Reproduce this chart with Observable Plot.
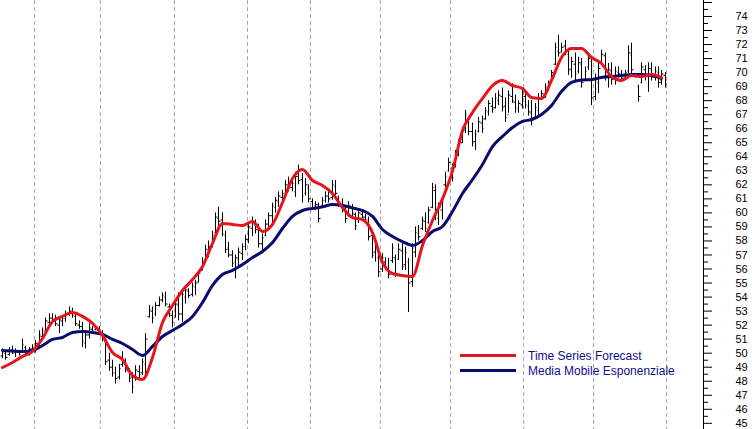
<!DOCTYPE html>
<html><head><meta charset="utf-8">
<script src="https://cdn.jsdelivr.net/npm/d3@7"></script>
<script src="https://cdn.jsdelivr.net/npm/@observablehq/plot@0.6"></script>
<style>
body{margin:0;background:#fff;}
#wrap{position:relative;width:752px;height:429px;overflow:hidden;}
#legend{position:absolute;left:460px;top:348px;font:12px "Liberation Sans",Arial,sans-serif;color:#10108a;}
.row{display:flex;align-items:center;height:15px;white-space:nowrap;}
.sw{width:56px;height:3px;margin-right:12px;}
</style></head><body><div id="wrap"></div>
<script>
// Daily OHLC bars (index = trading day)
const high = [50.3,50.2,50.4,50.5,50.3,50.2,51.0,50.5,50.4,50.6,
50.9,51.6,51.8,52.5,52.8,52.8,52.7,52.6,52.7,53.0,
53.3,53.2,52.8,52.3,52.2,51.6,52.1,51.9,51.9,51.9,
51.6,50.9,50.0,49.5,49.0,49.2,50.1,49.6,48.9,48.6,
49.1,49.1,49.6,51.4,53.4,53.3,53.6,54.0,54.3,54.35,
53.5,53.0,53.8,54.3,54.5,54.8,54.6,55.0,55.2,55.9,
56.8,57.7,58.0,58.7,60.0,60.4,60.0,58.7,57.9,57.3,
57.0,57.5,57.8,58.4,59.2,59.7,59.5,59.2,58.5,59.5,
60.0,60.7,61.1,61.5,61.6,62.3,62.55,62.3,62.9,63.4,
62.8,62.45,62.0,61.0,60.8,60.7,61.1,61.5,61.7,62.3,
62.3,61.2,61.0,60.4,60.8,60.6,60.0,60.3,60.2,59.9,
59.7,58.75,58.0,57.1,57.1,56.8,56.75,57.8,57.0,57.8,
57.8,57.56,56.75,57.8,59.0,59.1,59.7,60.0,60.4,62.1,
62.0,60.7,61.0,62.9,63.9,63.5,64.45,65.2,66.1,67.3,
66.8,66.4,65.9,66.8,66.9,67.5,68.0,68.2,68.5,68.7,
68.9,68.2,68.7,69.2,68.4,68.0,68.9,68.6,68.0,68.0,
67.8,68.5,68.7,69.2,69.4,70.15,72.1,72.65,72.1,72.3,
71.6,71.1,71.4,71.1,71.0,70.4,71.4,71.0,69.9,70.65,
71.6,71.4,70.65,70.7,70.4,70.4,70.15,70.15,71.9,72.1,
69.9,69.1,70.7,70.5,70.7,70.7,70.4,70.4,70.15,70.0];
const low = [49.6,49.5,49.8,49.9,49.7,49.8,50.0,49.9,49.8,50.0,
50.0,50.3,51.0,51.4,51.8,52.1,51.9,51.4,51.9,52.2,
52.6,52.5,51.9,51.7,50.4,50.3,51.0,51.4,51.6,51.4,
50.8,49.1,48.7,48.3,47.8,48.1,49.0,48.6,47.9,47.1,
48.0,48.2,48.4,48.3,52.5,52.1,52.6,53.3,53.6,53.3,
52.55,51.8,52.5,52.3,52.2,53.5,53.9,54.0,54.1,55.0,
55.9,56.4,56.8,57.5,58.5,59.0,58.3,57.1,56.8,56.1,
55.3,56.1,56.6,57.3,57.8,58.3,58.5,57.5,57.3,58.3,
58.9,59.2,60.0,60.4,60.7,61.2,61.5,61.5,61.1,62.0,
60.7,61.2,60.7,60.2,60.2,59.3,60.4,60.7,60.7,60.9,
61.1,60.4,60.0,59.25,59.7,59.7,58.75,59.25,59.5,59.3,
58.0,56.75,56.5,55.4,55.75,55.9,55.3,56.4,55.4,56.6,
55.9,55.9,52.9,54.7,56.8,58.0,58.75,58.6,59.2,60.3,
59.45,59.1,59.5,61.8,62.9,62.2,63.2,64.0,64.95,65.66,
65.5,64.7,64.45,65.7,65.66,66.6,66.9,67.1,67.4,67.65,
67.2,66.45,67.1,67.8,67.1,67.1,67.4,67.4,66.9,66.2,
66.7,66.8,68.0,68.15,68.7,69.4,70.5,71.1,71.4,71.2,
69.8,69.6,69.4,69.9,68.9,69.4,70.15,67.65,68.0,68.5,
70.65,69.4,68.9,69.1,69.1,69.6,69.3,69.6,69.9,69.9,
69.6,67.9,69.2,69.4,68.6,69.4,69.4,68.9,69.1,68.9];
const open = [49.8,50.0,49.9,50.2,50.0,50.1,50.1,50.4,50.0,50.3,
50.3,50.6,51.2,51.6,52.2,52.5,52.3,52.0,52.3,52.5,
52.8,53.0,52.6,52.0,51.9,50.7,51.3,51.7,51.7,51.7,
51.4,50.8,49.5,49.0,48.6,48.3,49.2,49.3,48.7,48.3,
48.2,48.7,48.6,49.2,52.6,53.0,52.8,53.4,53.8,54.0,
53.3,52.7,52.6,53.4,52.8,54.0,54.4,54.2,54.7,55.1,
55.9,56.6,57.3,57.7,58.6,59.6,59.5,58.4,57.5,57.0,
56.5,56.7,57.1,57.6,58.1,58.9,59.1,58.8,57.8,58.4,
59.2,59.8,60.4,60.8,61.1,61.4,62.0,61.8,61.5,62.6,
62.4,61.4,61.8,60.8,60.5,60.5,60.5,60.9,61.2,61.1,
61.9,61.0,60.6,60.2,59.8,60.4,59.9,59.4,59.9,59.7,
59.5,58.4,57.2,56.8,56.0,56.5,56.2,56.6,56.8,56.7,
57.3,56.3,56.5,55.1,57.2,58.5,58.9,59.4,59.3,60.4,
61.6,59.6,60.2,62.0,63.0,63.2,63.3,64.2,65.0,65.9,
66.6,65.8,65.1,65.8,66.4,66.7,67.2,67.6,67.5,68.0,
68.3,67.6,67.0,68.3,67.9,67.4,67.7,68.3,67.6,67.1,
66.8,67.3,68.1,68.4,68.9,69.5,70.6,71.5,71.5,71.9,
71.3,70.3,70.6,70.1,70.6,69.5,70.4,70.8,68.3,69.3,
70.8,71.2,69.8,70.1,69.6,70.0,69.8,69.7,70.1,71.2,
69.8,69.0,69.3,70.2,69.7,70.2,69.8,70.0,69.4,69.8];
const close = [50.1,49.7,50.2,50.0,50.1,49.9,50.6,50.0,50.3,50.4,
50.7,51.3,51.6,52.3,52.5,52.3,52.1,52.4,52.5,52.8,
53.0,52.7,52.1,51.9,50.8,51.3,51.8,51.6,51.8,51.5,
51.0,49.4,49.0,48.6,48.2,48.9,49.5,48.8,48.2,47.6,
48.8,48.5,49.4,51.0,53.1,52.5,53.4,53.8,54.1,53.5,
52.8,52.2,53.5,52.8,54.2,54.5,54.1,54.8,55.0,55.7,
56.5,57.4,57.6,58.4,59.7,59.4,58.5,57.4,57.0,56.4,
56.8,57.2,57.6,58.1,59.0,59.2,58.8,57.8,58.2,59.2,
59.8,60.5,60.9,61.2,61.4,62.0,61.8,62.1,62.6,62.3,
61.2,62.0,61.0,60.4,60.6,59.6,60.9,61.2,61.0,62.0,
61.4,60.6,60.3,59.6,60.5,60.0,59.1,60.0,59.7,59.5,
58.3,57.0,57.6,55.8,56.8,56.2,55.6,57.5,55.7,57.4,
56.2,57.2,55.0,57.5,58.6,58.3,59.5,58.9,60.2,61.8,
59.8,60.4,60.8,62.6,63.6,62.5,64.2,65.0,65.8,67.0,
65.8,65.0,65.6,66.5,66.0,67.3,67.8,67.4,68.2,68.4,
67.5,66.8,68.4,68.0,67.5,67.8,68.6,67.7,67.2,66.6,
67.5,68.2,68.5,69.0,69.2,70.0,71.8,71.4,71.8,71.5,
70.2,70.8,69.9,70.7,69.3,70.1,71.0,68.2,69.5,70.3,
71.3,69.8,70.2,69.5,70.1,69.9,69.6,70.0,71.4,70.2,
69.7,68.3,70.4,69.8,70.3,69.7,70.1,69.3,69.9,69.2];

// First trading day of each month (dashed separators)
const monthStarts = [10, 30, 52, 74, 93, 114, 135, 157, 178, 200];

// Indicator lines, sampled every 3 trading days
const lineStep = 3;
const tsf = [48.98,49.34,49.77,50.12,51.05,52.26,52.62,52.90,52.62,52.12,
51.27,50.05,49.55,48.41,48.13,49.69,52.19,53.40,54.47,55.25,
56.18,57.82,59.25,59.18,59.10,59.39,58.68,59.18,60.74,62.45,
63.10,62.31,61.95,61.38,60.39,59.67,59.53,58.60,56.47,55.68,
55.54,55.47,57.68,59.46,61.0,63.0,65.87,67.16,68.16,69.08,
69.44,69.08,68.87,68.23,68.16,69.44,71.08,71.72,71.72,71.08,
70.65,69.72,69.44,69.79,69.72,69.87,69.65];
const ema = [50.19,50.15,50.12,50.19,50.55,50.98,51.12,51.48,51.55,51.48,
51.34,50.98,50.69,50.26,49.84,50.48,51.19,51.62,52.05,52.62,
53.61,54.83,55.61,55.90,56.32,56.82,57.25,57.89,58.89,59.75,
60.17,60.32,60.43,60.60,60.53,60.35,60.17,59.75,58.82,58.32,
57.96,57.68,58.03,58.68,59.03,60.10,61.38,62.38,63.45,64.73,
65.45,66.09,66.52,66.66,67.02,67.66,68.65,69.30,69.47,69.51,
69.65,69.72,69.79,69.87,69.87,69.79,69.58];

const yTicks = d3.range(45, 76, 1);
const yMinor = d3.range(44.5, 75.5, 1);
const seriesNames = ["Time Series Forecast", "Media Mobile Esponenziale"];
const seriesColors = ["#e8141b", "#0b0b6e"];

const bars = high.map((h, i) => ({i, high: h, low: low[i], open: open[i], close: close[i]}));
const tsfPts = tsf.map((v, k) => ({i: k * lineStep, v}));
const emaPts = ema.map((v, k) => ({i: k * lineStep, v}));

const chart = Plot.plot({
  width: 752, height: 429,
  marginLeft: 0, marginRight: 49, marginTop: 0, marginBottom: 0,
  style: {background: "#fff", fontFamily: "Liberation Sans, Arial, sans-serif", fontSize: "11px", color: "#000"},
  x: {domain: [-0.6, 210.5], round: true, axis: null},
  y: {domain: [44.56, 75.14]},
  marks: [
    Plot.ruleX(monthStarts, {x: d => d - 0.5, stroke: "#a8a8a8", strokeDasharray: "4,3", strokeWidth: 1}),
    Plot.ruleX(bars, {x: "i", y1: "low", y2: "high", stroke: "#000", strokeWidth: 1}),
    Plot.link(bars, {x1: d => d.i - 0.45, x2: "i", y1: "open", y2: "open", stroke: "#000"}),
    Plot.link(bars, {x1: "i", x2: d => d.i + 0.45, y1: "close", y2: "close", stroke: "#000"}),
    Plot.line(emaPts, {x: "i", y: "v", stroke: seriesColors[1], strokeWidth: 3, curve: "monotone-x"}),
    Plot.line(tsfPts, {x: "i", y: "v", stroke: seriesColors[0], strokeWidth: 3, curve: "monotone-x"}),
    Plot.ruleX([210.5], {stroke: "#000"}),
    Plot.axisY({ticks: yMinor, anchor: "right", tickSize: 4, tickFormat: () => "", label: null}),
    Plot.axisY({ticks: yTicks, anchor: "right", tickSize: 8, tickPadding: 24, label: null,
      tickFormat: d => d < 75 ? String(d) : "", fill: "#000"})
  ]
});
const wrap = document.getElementById("wrap");
wrap.appendChild(chart);
const lg = document.createElement("div");
lg.id = "legend";
seriesNames.forEach((n, j) => {
  const r = document.createElement("div");
  r.className = "row";
  const s = document.createElement("div");
  s.className = "sw";
  s.style.background = seriesColors[j];
  const t = document.createElement("span");
  t.textContent = n;
  r.appendChild(s); r.appendChild(t);
  lg.appendChild(r);
});
wrap.appendChild(lg);
</script></body></html>
